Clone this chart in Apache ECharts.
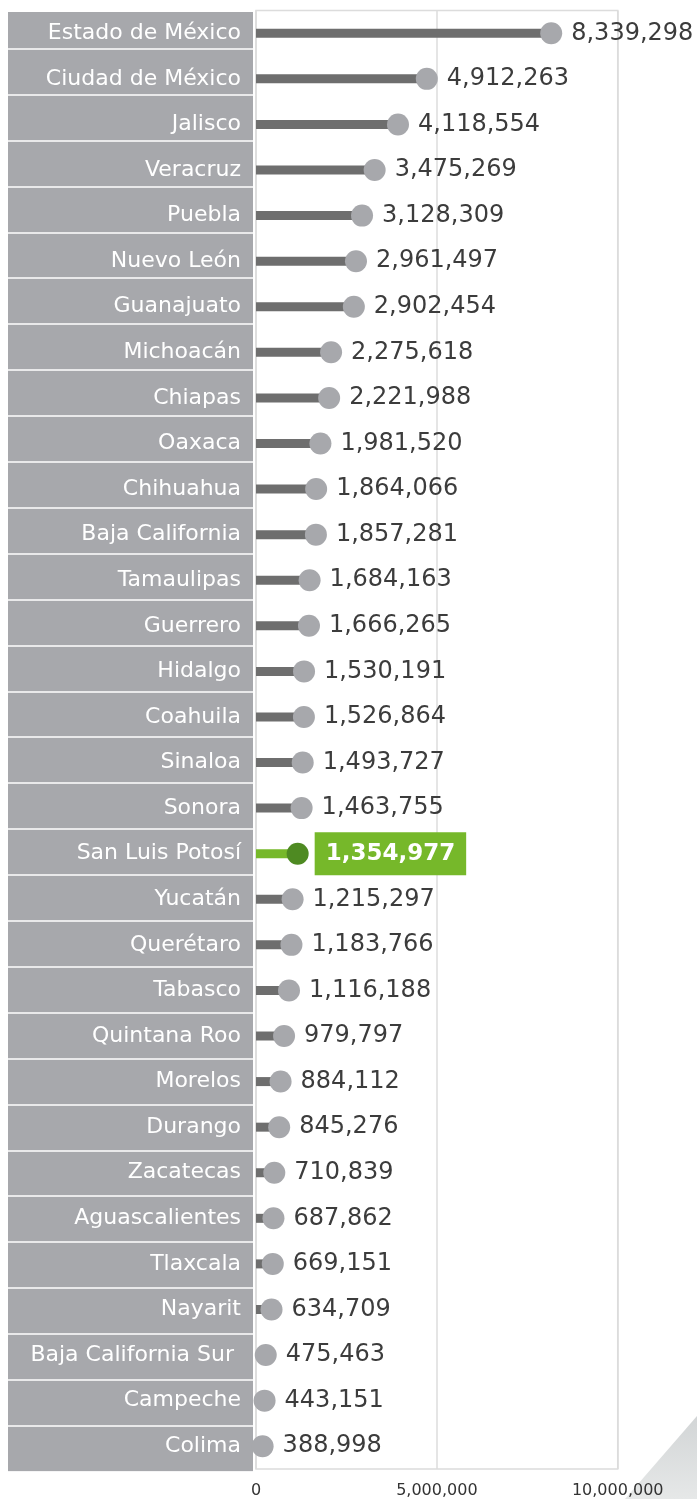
<!DOCTYPE html>
<html>
<head>
<meta charset="utf-8">
<script src="https://cdn.jsdelivr.net/npm/echarts@6/dist/echarts.min.js"></script>
<style>
  html, body { margin: 0; padding: 0; background: #ffffff; }
  #chart { width: 697px; height: 1499px; }
</style>
</head>
<body>
<div id="chart"></div>
<script>
const states = [
  'Estado de México', 'Ciudad de México', 'Jalisco', 'Veracruz', 'Puebla',
  'Nuevo León', 'Guanajuato', 'Michoacán', 'Chiapas', 'Oaxaca',
  'Chihuahua', 'Baja California', 'Tamaulipas', 'Guerrero', 'Hidalgo',
  'Coahuila', 'Sinaloa', 'Sonora', 'San Luis Potosí', 'Yucatán',
  'Querétaro', 'Tabasco', 'Quintana Roo', 'Morelos', 'Durango',
  'Zacatecas', 'Aguascalientes', 'Tlaxcala', 'Nayarit', 'Baja California Sur ',
  'Campeche', 'Colima'
];
const population = [
  8339298, 4912263, 4118554, 3475269, 3128309,
  2961497, 2902454, 2275618, 2221988, 1981520,
  1864066, 1857281, 1684163, 1666265, 1530191,
  1526864, 1493727, 1463755, 1354977, 1215297,
  1183766, 1116188, 979797, 884112, 845276,
  710839, 687862, 669151, 634709, 475463,
  443151, 388998
];
const highlightState = 'San Luis Potosí';
const xTickMin = 0;
const xTickMax = 10000000;
const xTickStep = 5000000;

const fmt = v => Number(v).toLocaleString('en-US');
const FONT = 'DejaVu Sans';

const GREEN = '#76b82a';
const GREEN_DARK = '#4e8a22';
const STEM = '#6e6e6e';
const DOT = '#a7a8ac';
const PANEL = '#a7a8ac';
const GRID_LINE = '#dcdcdc';

const stemData = population.map((v, i) => states[i] === highlightState
  ? { value: v, itemStyle: { color: GREEN } }
  : v);

const dotData = population.map((v, i) => states[i] === highlightState
  ? {
      value: [v, states[i]],
      itemStyle: { color: GREEN_DARK },
      label: {
        color: '#ffffff',
        fontWeight: 'bold',
        fontSize: 23,
        lineHeight: 23,
        backgroundColor: GREEN,
        padding: [10, 11, 10, 11],
        distance: 6
      }
    }
  : { value: [v, states[i]] });

const chart = echarts.init(document.getElementById('chart'), null, { renderer: 'canvas' });

chart.setOption({
  animation: false,
  backgroundColor: '#ffffff',
  textStyle: { fontFamily: FONT },
  grid: [
    { // plot area
      left: 256, right: 79.3, top: 10.5, bottom: 29,
      show: true, borderColor: GRID_LINE, borderWidth: 1.5, backgroundColor: 'transparent'
    },
    { // label panel
      left: 8, width: 245, top: 2.8, height: 1468.8, show: false
    }
  ],
  xAxis: [
    { // visible scale with ticks
      gridIndex: 0, type: 'value', min: xTickMin, max: xTickMax, interval: xTickStep,
      axisLine: { show: false }, axisTick: { show: false },
      splitLine: { show: true, lineStyle: { color: GRID_LINE, width: 1.5 } },
      axisLabel: { color: '#333333', fontSize: 16, fontFamily: FONT, margin: 14, formatter: fmt }
    },
    { // scale used by the marks
      gridIndex: 0, type: 'value', min: 207000, max: 10171000, show: false
    },
    { gridIndex: 1, type: 'value', min: 0, max: 1, show: false }
  ],
  yAxis: [
    {
      gridIndex: 0, type: 'category', data: states, inverse: true, z: 5,
      axisLine: { show: false }, axisTick: { show: false }, splitLine: { show: false },
      axisLabel: { color: '#ffffff', fontSize: 22, fontFamily: FONT, margin: 15, align: 'right' }
    },
    {
      gridIndex: 1, type: 'category', data: states, inverse: true, z: 0,
      axisLine: { show: false }, axisTick: { show: false }, axisLabel: { show: false },
      splitArea: { show: true, areaStyle: { color: [PANEL] } },
      splitLine: { show: true, lineStyle: { color: '#ffffff', width: 1.5 } }
    }
  ],
  series: [
    {
      name: 'stem', type: 'bar', xAxisIndex: 1, yAxisIndex: 0,
      data: stemData, barWidth: 9, itemStyle: { color: STEM }, z: 2, silent: true
    },
    {
      name: 'dot', type: 'scatter', xAxisIndex: 1, yAxisIndex: 0,
      data: dotData, symbol: 'circle', symbolSize: 22, z: 3, silent: true,
      itemStyle: { color: DOT, opacity: 1 },
      label: {
        show: true, position: 'right', distance: 9,
        color: '#3c3c3c', fontSize: 24, fontFamily: FONT,
        formatter: p => fmt(p.value[0])
      }
    }
  ],
  graphic: [
    { type: 'rect', z: 10, silent: true, shape: { x: 0, y: 0, width: 254, height: 12 }, style: { fill: '#ffffff' } },
    {
      type: 'polygon', z: -1, silent: true,
      shape: { points: [[697, 1416], [697, 1499], [625, 1499]] },
      style: {
        fill: new echarts.graphic.LinearGradient(0, 0, 0, 1, [
          { offset: 0, color: '#d2d5d6' }, { offset: 1, color: '#e6e8e8' }
        ], false)
      }
    }
  ]
});
</script>
</body>
</html>
